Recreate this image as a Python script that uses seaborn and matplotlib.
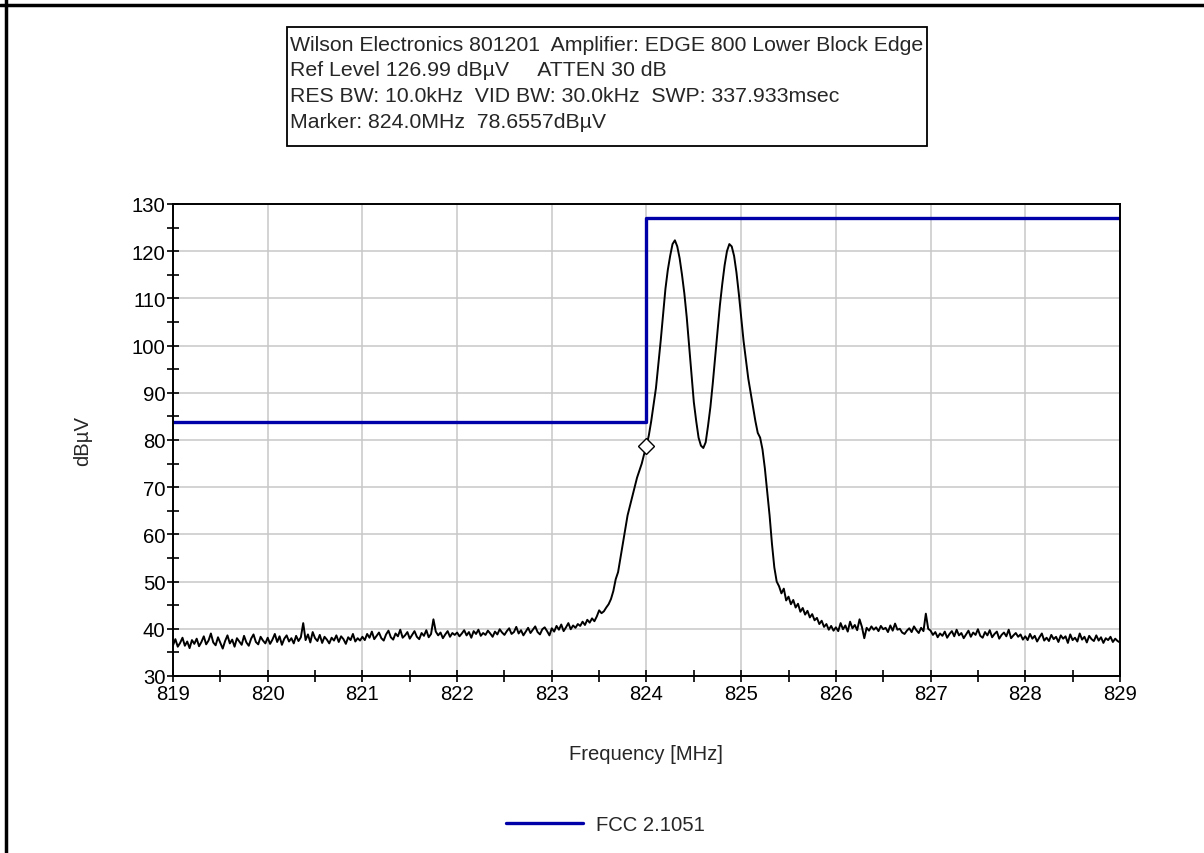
import numpy as np
import matplotlib
matplotlib.use("Agg")
import matplotlib.pyplot as plt
import matplotlib.patches as mpatches
from matplotlib.lines import Line2D
import seaborn as sns

# header text block
header_lines = [
    "Wilson Electronics 801201  Amplifier: EDGE 800 Lower Block Edge",
    "Ref Level 126.99 dB\u00b5V     ATTEN 30 dB",
    "RES BW: 10.0kHz  VID BW: 30.0kHz  SWP: 337.933msec",
    "Marker: 824.0MHz  78.6557dB\u00b5V",
]

# sweep, 819 .. 829 MHz, 0.025 MHz steps
f_start, f_stop = 819.0, 829.0
trace_dbuv = [
    36.5, 37.8, 36.2, 37.0, 38.1, 36.4, 37.3, 35.9, 37.6, 36.8,
    37.9, 36.3, 37.2, 38.4, 36.7, 37.5, 39.0, 37.1, 36.5, 38.2,
    37.0, 35.8, 37.4, 38.6, 36.9, 37.7, 36.2, 38.0, 37.3, 36.6,
    38.5, 37.1, 36.4, 37.9, 38.8, 37.2, 36.7, 38.3, 37.5, 36.9,
    38.1, 36.8, 37.7, 38.9, 37.2, 38.4, 36.6, 37.9, 38.6, 37.3,
    38.0, 36.9, 38.5, 37.4, 38.2, 41.2, 37.6, 38.8, 37.1, 39.3,
    38.0, 37.4, 38.7, 37.0, 38.3, 37.7, 36.9, 38.1, 37.5, 38.6,
    37.2, 38.4, 37.8, 36.8, 38.2, 37.6, 38.9, 37.3, 38.0, 37.5,
    38.3, 37.6, 38.9, 38.1, 39.4, 37.8, 38.5, 39.2, 38.0, 37.5,
    38.8, 39.6, 38.2, 37.7, 39.0, 38.4, 39.8, 38.1, 38.6, 39.3,
    37.9, 38.7, 39.5, 38.3, 37.8, 39.1, 38.5, 39.7, 38.2, 38.9,
    42.0, 39.4, 38.6, 39.2, 38.0, 38.8, 39.5, 38.3, 39.1, 38.7,
    39.2, 38.4, 39.0, 39.7, 38.6, 39.3, 38.1, 39.5, 38.9, 39.8,
    38.5, 39.1, 38.7, 39.6, 39.0, 38.3, 39.4, 38.8, 39.9, 39.2,
    38.7, 39.5, 40.1, 38.9, 39.3, 40.4, 39.0, 39.7, 38.6, 39.4,
    40.2, 39.1, 39.8, 40.5, 39.3, 38.8, 39.9, 40.3, 39.5, 38.6,
    40.1, 39.4, 40.6, 39.8, 40.9, 39.5, 40.3, 41.2, 39.9, 40.7,
    40.2, 41.0, 40.6, 41.5, 40.8, 41.9, 41.3, 42.2, 41.6, 42.6,
    43.9, 43.3, 43.7, 44.5, 45.2, 46.3, 48.0, 50.5, 52.0, 55.0,
    58.0, 61.0, 64.0, 66.0, 68.0, 70.0, 72.0, 73.5, 75.0, 77.0,
    78.7, 81.0, 84.0, 87.5, 91.0, 96.0, 101.0, 106.5, 112.0, 116.0,
    119.0, 121.5, 122.3, 121.0, 118.5, 115.0, 111.0, 106.0, 100.0, 94.0,
    88.0, 84.0, 80.5, 78.8, 78.3, 79.5, 83.0, 87.0, 92.0, 97.5,
    103.0, 108.5, 113.0, 117.0, 120.0, 121.5, 121.0, 119.0, 115.5, 111.0,
    106.0, 101.0, 97.0, 93.0, 90.0, 87.0, 84.0, 81.5, 80.5, 78.0,
    74.0, 69.0, 64.0, 58.0, 53.0, 50.0, 49.0, 47.5, 48.5, 46.0,
    46.8, 45.2, 46.1, 44.5, 45.3, 43.6, 44.4, 43.0, 43.8, 42.4,
    43.1, 41.8, 42.3, 41.0, 41.7, 40.4, 41.0, 39.8, 40.6, 39.6,
    40.3, 39.5, 41.2, 39.9, 40.7, 39.4, 41.5, 40.1, 40.8, 39.7,
    42.0, 40.4, 38.0, 40.2, 39.6, 40.5, 39.8, 40.3, 39.5, 40.6,
    39.9, 40.2, 39.3, 40.7, 39.6, 41.1, 39.8, 40.0, 39.2, 38.9,
    39.6, 40.1, 39.3, 40.5, 39.7, 39.1, 40.2, 39.5, 43.2, 40.0,
    39.6, 38.7, 39.3, 38.2, 39.0, 38.5, 39.4, 38.1, 38.9, 39.5,
    38.4, 39.8, 38.6, 39.1, 38.0, 38.8, 39.6, 38.3, 39.2, 38.7,
    39.9, 38.5, 38.1, 39.3, 38.6, 39.7, 38.2, 38.9, 39.4, 37.9,
    38.7, 39.2, 38.4, 39.8, 38.0, 38.6, 39.1, 38.3, 38.8, 37.7,
    38.4, 37.6, 38.9, 37.9, 38.5, 37.3, 38.2, 39.0, 37.5, 38.1,
    37.4, 38.7, 37.8, 38.3, 37.2, 38.6, 37.9, 38.4, 37.0, 38.8,
    37.6, 38.1, 37.3, 39.0, 37.7, 38.3, 37.1, 38.5, 37.8, 37.4,
    38.6, 37.5, 38.2, 37.0, 38.0, 37.6, 38.3, 37.2, 37.9, 37.4,
    37.1,
]

# FCC 2.1051 limit mask
limit_f = [819.0, 824.0, 824.0, 829.0]
limit_dbuv = [83.7, 83.7, 126.99, 126.99]
limit_label = "FCC 2.1051"

marker_f = 824.0
marker_dbuv = 78.6557

freq = np.linspace(f_start, f_stop, len(trace_dbuv))

sns.set_theme(style="white")
plt.rcParams["font.family"] = ["Liberation Sans", "DejaVu Sans"]
fs = 14.6

fig = plt.figure(figsize=(12.04, 8.54), dpi=100)
ax = fig.add_axes([0.1437, 0.2073, 0.7865, 0.5527])

sns.lineplot(x=freq, y=trace_dbuv, ax=ax, color="black", linewidth=1.4,
             sort=False, estimator=None)
sns.lineplot(x=limit_f, y=limit_dbuv, ax=ax, color="#0000a8", linewidth=2.4,
             sort=False, estimator=None)
ax.plot([marker_f], [marker_dbuv], marker="D", markersize=8,
        markerfacecolor="white", markeredgecolor="black", markeredgewidth=1.0)

ax.set_xlim(819, 829)
ax.set_ylim(30, 130)
ax.set_xticks(np.arange(819, 830, 1))
ax.set_yticks(np.arange(30, 131, 10))
ax.set_xticks(np.arange(819.5, 829, 1), minor=True)
ax.set_yticks(np.arange(35, 130, 10), minor=True)
ax.grid(True, which="major", color="#c8c8c8", linewidth=1.1)
ax.set_axisbelow(True)
for s in ax.spines.values():
    s.set_color("black")
    s.set_linewidth(1.4)
ax.tick_params(which="major", direction="inout", length=9, width=1.2,
               colors="black", labelsize=fs, pad=1, left=True, bottom=True)
ax.tick_params(which="minor", direction="inout", length=8, width=1.2,
               colors="black", left=True, bottom=True)

ax.set_xlabel("Frequency [MHz]", fontsize=fs)
ax.set_ylabel("dB\u00b5V", fontsize=fs)
ax.xaxis.set_label_coords(0.5, -0.144)
ax.yaxis.set_label_coords(-0.0855, 0.5)

# header box
fig.add_artist(mpatches.Rectangle((0.2384, 0.8279), 0.5316, 0.1393,
                                  transform=fig.transFigure, fill=False,
                                  edgecolor="black", linewidth=1.3))
fig.text(0.2405, 0.958, "\n".join(header_lines), ha="left", va="top",
         fontsize=15.3, linespacing=1.44)

# window frame lines (top and left)
fig.add_artist(Line2D([0, 1], [0.9935, 0.9935], transform=fig.transFigure,
                      color="black", linewidth=2.5))
fig.add_artist(Line2D([0.0052, 0.0052], [0, 1], transform=fig.transFigure,
                      color="black", linewidth=2.5))

handle = Line2D([], [], color="#0000a8", linewidth=2.4)
fig.legend([handle], [limit_label], loc="center", bbox_to_anchor=(0.503, 0.033),
           frameon=False, fontsize=fs, handlelength=3.8, handletextpad=0.65)

fig.savefig("out.png", dpi=100)
